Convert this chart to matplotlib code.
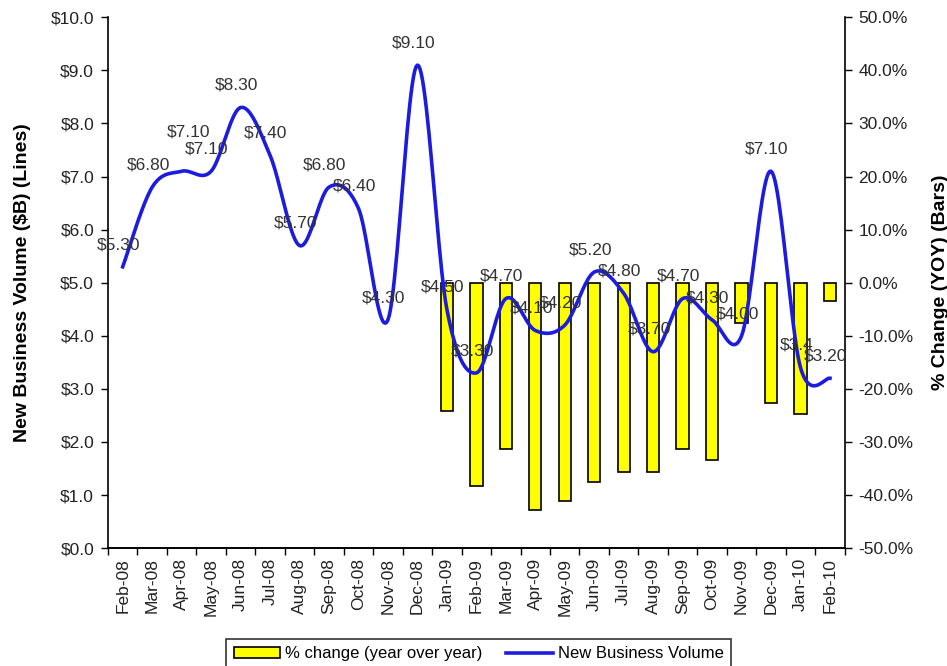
import numpy as np
import matplotlib.pyplot as plt
from matplotlib.ticker import FuncFormatter, FixedLocator

plt.rcParams['font.family'] = ['Liberation Sans', 'DejaVu Sans']

# data
months = ['Feb-08', 'Mar-08', 'Apr-08', 'May-08', 'Jun-08', 'Jul-08', 'Aug-08',
          'Sep-08', 'Oct-08', 'Nov-08', 'Dec-08', 'Jan-09', 'Feb-09', 'Mar-09',
          'Apr-09', 'May-09', 'Jun-09', 'Jul-09', 'Aug-09', 'Sep-09', 'Oct-09',
          'Nov-09', 'Dec-09', 'Jan-10', 'Feb-10']
volume = [5.30, 6.80, 7.10, 7.10, 8.30, 7.40, 5.70, 6.80, 6.40, 4.30, 9.10, 4.50,
          3.30, 4.70, 4.10, 4.20, 5.20, 4.80, 3.70, 4.70, 4.30, 4.00, 7.10, 3.40, 3.20]
volume_labels = ['$5.30', '$6.80', '$7.10', '$7.10', '$8.30', '$7.40', '$5.70',
                 '$6.80', '$6.40', '$4.30', '$9.10', '$4.50', '$3.30', '$4.70',
                 '$4.10', '$4.20', '$5.20', '$4.80', '$3.70', '$4.70', '$4.30',
                 '$4.00', '$7.10', '$3.4', '$3.20']
yoy_months = months[11:]
yoy_change = [-24.2, -38.3, -31.3, -42.8, -41.1, -37.5, -35.7, -35.7, -31.3,
              -33.4, -7.5, -22.6, -24.7, -3.4]

# label nudges (points) where excel moved a label
nudge = {2: (5, 28)}


def smooth_line(x, y, n=24):
    # excel style bezier smoothing through the points
    x = np.asarray(x, float)
    y = np.asarray(y, float)
    px = np.concatenate([[x[0]], x, [x[-1]]])
    py = np.concatenate([[y[0]], y, [y[-1]]])
    t = np.linspace(0, 1, n)[:, None]
    xs, ys = [], []
    for i in range(1, len(x)):
        p0 = np.array([px[i], py[i]])
        p3 = np.array([px[i + 1], py[i + 1]])
        c1 = p0 + (p3 - np.array([px[i - 1], py[i - 1]])) / 6
        c2 = p3 - (np.array([px[i + 2], py[i + 2]]) - p0) / 6
        seg = ((1 - t) ** 3) * p0 + 3 * ((1 - t) ** 2) * t * c1 + 3 * (1 - t) * t ** 2 * c2 + t ** 3 * p3
        xs.append(seg[:, 0])
        ys.append(seg[:, 1])
    return np.concatenate(xs), np.concatenate(ys)


fig = plt.figure(figsize=(9.47, 6.66), dpi=100)
ax = fig.add_axes([0.114, 0.177, 0.778, 0.797])
ax2 = ax.twinx()
ax.set_zorder(ax2.get_zorder() + 1)
ax.patch.set_visible(False)

xpos = np.arange(len(months))
bar_x = [months.index(m) for m in yoy_months]
ax2.bar(bar_x, yoy_change, width=0.42, color='#ffff00', edgecolor='black',
        linewidth=1.2, label='% change (year over year)')

sx, sy = smooth_line(xpos, volume)
ax.plot(sx, sy, color='#1c1ce0', linewidth=2.6, label='New Business Volume')

for i, (v, lab) in enumerate(zip(volume, volume_labels)):
    dx, dy = nudge.get(i, (-3, 16))
    ax.annotate(lab, (i, v), xytext=(dx, dy), textcoords='offset points',
                ha='center', va='center', fontsize=12.5, color='#333333')

ax.set_xlim(-0.5, len(months) - 0.5)
ax.set_ylim(0, 10)
ax2.set_ylim(-50, 50)
ax.set_yticks(np.arange(0, 10.01, 1))
ax2.set_yticks(np.arange(-50, 50.01, 10))
ax.yaxis.set_major_formatter(FuncFormatter(lambda v, p: '${:.1f}'.format(v)))
ax2.yaxis.set_major_formatter(FuncFormatter(lambda v, p: '{:.1f}%'.format(v)))

ax.set_xticks(xpos)
ax.set_xticklabels(months, rotation=90, fontsize=12.5, color='#222222')
ax.xaxis.set_minor_locator(FixedLocator(np.arange(-0.5, len(months), 1)))
ax.tick_params(axis='x', which='major', length=0, pad=7)
ax.tick_params(axis='x', which='minor', length=5, width=1, direction='out')
ax.tick_params(axis='y', length=5, width=1, direction='out', labelsize=12.5,
               labelcolor='#222222', pad=5)
ax2.tick_params(axis='y', length=5, width=1, direction='out', labelsize=12.5,
                labelcolor='#222222', pad=5)

for a in (ax, ax2):
    a.spines['top'].set_visible(False)
    for s in a.spines.values():
        s.set_linewidth(1.2)
ax.spines['right'].set_visible(False)
ax2.spines['left'].set_visible(False)

ax.set_ylabel('New Business Volume ($B) (Lines)', fontsize=14, fontweight='bold',
              labelpad=14)
ax2.set_ylabel('% Change (YOY) (Bars)', fontsize=14, fontweight='bold',
               labelpad=13)

h1, l1 = ax2.get_legend_handles_labels()
h2, l2 = ax.get_legend_handles_labels()
leg = ax.legend(h1 + h2, l1 + l2, loc='upper center', bbox_to_anchor=(0.503, -0.171),
                ncol=2, fontsize=12, frameon=True, fancybox=False, edgecolor='black',
                handlelength=2.8, handletextpad=0.3, columnspacing=1.4,
                borderpad=0.45, borderaxespad=0)
leg.get_frame().set_linewidth(1.2)

fig.savefig('out.png', dpi=100)
